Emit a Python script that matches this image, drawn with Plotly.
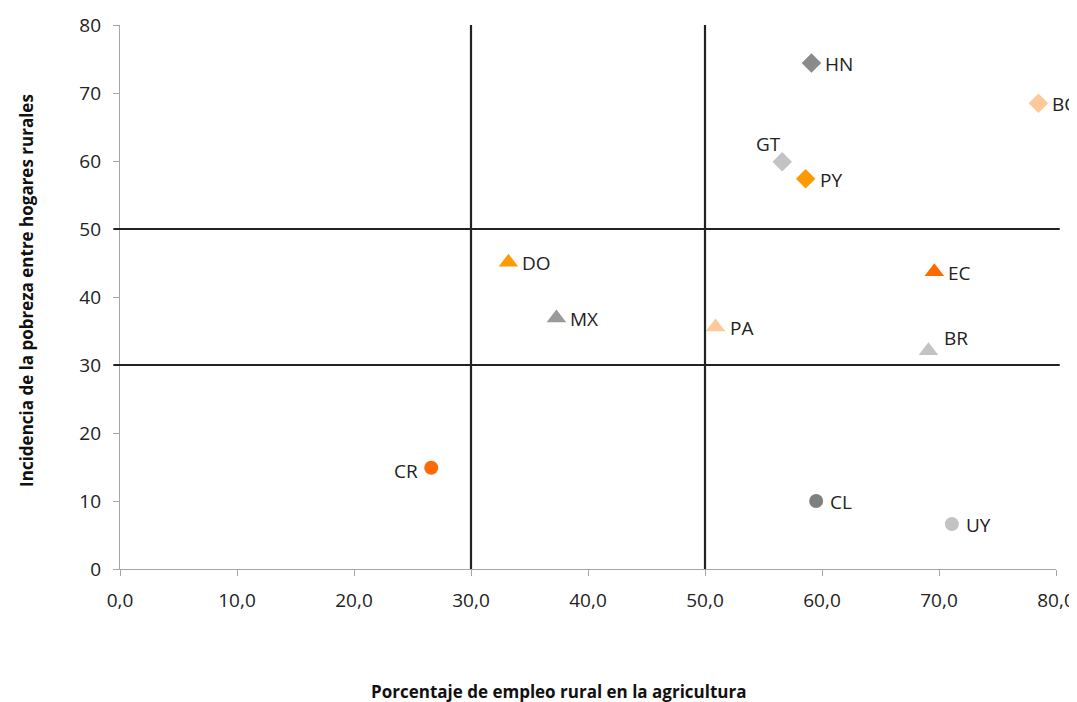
import plotly.graph_objects as go

# Data
countries = ["HN", "BO", "GT", "PY", "DO", "EC", "MX", "PA", "BR", "CR", "CL", "UY"]
empleo_agricola = [59.1, 78.5, 56.6, 58.6, 33.2, 69.6, 37.3, 50.9, 69.1, 26.6, 59.5, 71.1]
pobreza_rural = [74.4, 68.5, 59.9, 57.4, 45.1, 43.7, 36.9, 35.6, 32.1, 14.9, 10.0, 6.6]
symbols = ["diamond", "diamond", "diamond", "diamond",
           "triangle-up", "triangle-up", "triangle-up", "triangle-up", "triangle-up",
           "circle", "circle", "circle"]
colors = ["#8a8a8a", "#fdc999", "#c3c3c3", "#ff9900",
          "#ff9900", "#ff6a00", "#9a9a9a", "#fdc999", "#c3c3c3",
          "#ff6a00", "#7f7f7f", "#c3c3c3"]
label_pos = ["right", "right", "above-left", "right",
             "right", "right", "right", "right", "above-right",
             "left", "right", "right"]
x_lines = [30, 50]
y_lines = [30, 50]
x_ticks = [0, 10, 20, 30, 40, 50, 60, 70, 80]
y_ticks = [0, 10, 20, 30, 40, 50, 60, 70, 80]

font_family = "Open Sans, Lato, sans-serif"
text_color = "#222222"

fig = go.Figure()

sizes = {"diamond": 15, "triangle-up": 17, "circle": 14}
fig.add_trace(go.Scatter(
    x=empleo_agricola, y=pobreza_rural, mode="markers",
    marker=dict(symbol=symbols, color=colors, opacity=1,
                size=[sizes[s] for s in symbols], line=dict(width=0)),
    text=countries, hoverinfo="text+x+y", showlegend=False, cliponaxis=False,
))

shifts = {
    "right": dict(xanchor="left", yanchor="middle", xshift=12, yshift=0),
    "left": dict(xanchor="right", yanchor="middle", xshift=-11, yshift=-2),
    "above-left": dict(xanchor="center", yanchor="middle", xshift=-14, yshift=19),
    "above-right": dict(xanchor="left", yanchor="middle", xshift=14, yshift=14),
}
for c, xv, yv, p in zip(countries, empleo_agricola, pobreza_rural, label_pos):
    s = shifts[p]
    fig.add_annotation(x=xv, y=yv, text=c, showarrow=False,
                       font=dict(family=font_family, size=19, color=text_color),
                       xanchor=s["xanchor"], yanchor=s["yanchor"],
                       xshift=s["xshift"], yshift=s["yshift"] - 1)

for xv in x_lines:
    fig.add_shape(type="line", xref="x", yref="y", x0=xv, x1=xv, y0=0, y1=80,
                  line=dict(color="#222222", width=2.2), layer="above")
for yv in y_lines:
    fig.add_shape(type="line", xref="paper", yref="y", x0=-0.007, x1=1.004, y0=yv, y1=yv,
                  line=dict(color="#222222", width=2.2), layer="above")

fig.update_layout(
    width=1077, height=694,
    margin=dict(l=112, r=29, t=17, b=133, autoexpand=False),
    paper_bgcolor="white", plot_bgcolor="white",
    separators=",.",
    font=dict(family=font_family, size=19, color=text_color),
    xaxis=dict(range=[0, 80], tickvals=x_ticks, tickformat=".1f",
               showgrid=False, zeroline=False, showline=True, automargin=False,
               linecolor="#a6a6a6", linewidth=1.3,
               ticks="outside", ticklen=6, tickcolor="#a6a6a6", tickwidth=1,
               ticklabelstandoff=8,
               tickfont=dict(family=font_family, size=19, color=text_color)),
    yaxis=dict(range=[0, 80], tickvals=y_ticks, tickformat="d",
               showgrid=False, zeroline=False, showline=True, automargin=False,
               linecolor="#a6a6a6", linewidth=1.3,
               ticks="outside", ticklen=6, tickcolor="#a6a6a6", tickwidth=1,
               ticklabelstandoff=8,
               tickfont=dict(family=font_family, size=19, color=text_color)),
)

fig.add_annotation(xref="paper", yref="paper", x=0.468, y=-0.226,
                   text="<b>Porcentaje de empleo rural en la agricultura</b>",
                   showarrow=False, xanchor="center", yanchor="middle",
                   font=dict(family=font_family, size=17, color="#111111"))
fig.add_annotation(xref="paper", yref="paper", x=-0.0994, y=0.513,
                   text="<b>Incidencia de la pobreza entre hogares rurales</b>",
                   showarrow=False, xanchor="center", yanchor="middle", textangle=-90,
                   font=dict(family=font_family, size=17, color="#111111"))

fig.write_html("out.html")
